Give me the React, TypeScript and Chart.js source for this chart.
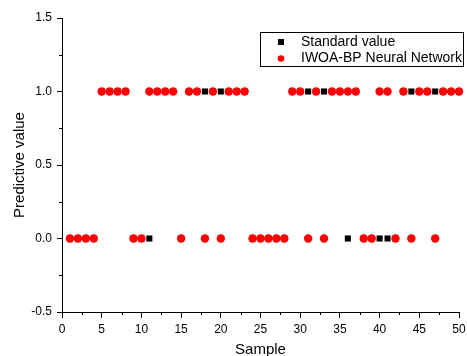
import { useEffect, useRef } from "react";
import { Chart, registerables } from "chart.js";

Chart.register(...registerables);

const samples = [
  1, 2, 3, 4, 5, 6, 7, 8, 9, 10, 11, 12, 13, 14, 15, 16, 17, 18, 19, 20, 21, 22, 23, 24, 25,
  26, 27, 28, 29, 30, 31, 32, 33, 34, 35, 36, 37, 38, 39, 40, 41, 42, 43, 44, 45, 46, 47, 48, 49, 50,
];
const standardValues = [
  0, 0, 0, 0, 1, 1, 1, 1, 0, 0, 0, 1, 1, 1, 0, 1, 1, 1, 1, 1, 1, 1, 1, 0, 0,
  0, 0, 0, 1, 1, 1, 1, 1, 1, 1, 0, 1, 0, 0, 0, 0, 0, 1, 1, 1, 1, 1, 1, 1, 1,
];
const predictedValues = [
  0, 0, 0, 0, 1, 1, 1, 1, 0, 0, 1, 1, 1, 1, 0, 1, 1, 0, 1, 0, 1, 1, 1, 0, 0,
  0, 0, 0, 1, 1, 0, 1, 0, 1, 1, 1, 1, 0, 0, 1, 1, 0, 1, 0, 1, 1, 0, 1, 1, 1,
];
const seriesNames = ["Standard value", "IWOA-BP Neural Network"];
const seriesColors = ["#000000", "#ff0000"];
const xMajorTicks = [0, 5, 10, 15, 20, 25, 30, 35, 40, 45, 50];
const yMajorTicks = [-0.5, 0, 0.5, 1.0, 1.5];

const FONT = "'Liberation Sans', Arial, sans-serif";

const isMajor = (v: number, list: number[]) => list.some((t) => Math.abs(t - v) < 1e-9);

const minorTickPlugin = {
  id: "minorTicks",
  afterDraw(chart: any) {
    const ctx = chart.ctx;
    const xs = chart.scales.x;
    const ys = chart.scales.y;
    ctx.save();
    ctx.strokeStyle = "#000";
    ctx.lineWidth = 1;
    ctx.beginPath();
    xs.ticks.forEach((t: any) => {
      if (!isMajor(t.value, xMajorTicks)) {
        const px = Math.round(xs.getPixelForValue(t.value)) + 0.5;
        ctx.moveTo(px, xs.top);
        ctx.lineTo(px, xs.top + 3);
      }
    });
    ys.ticks.forEach((t: any) => {
      if (!isMajor(t.value, yMajorTicks)) {
        const py = Math.round(ys.getPixelForValue(t.value)) + 0.5;
        ctx.moveTo(ys.right, py);
        ctx.lineTo(ys.right - 3, py);
      }
    });
    ctx.stroke();
    ctx.restore();
  },
};

const boxLegendPlugin = {
  id: "boxLegend",
  afterDraw(chart: any) {
    const ctx = chart.ctx;
    const area = chart.chartArea;
    const w = 203;
    const h = 34;
    const x0 = area.right + 4 - w;
    const y0 = area.top + 14;
    ctx.save();
    ctx.strokeStyle = "#000";
    ctx.lineWidth = 1;
    ctx.strokeRect(Math.round(x0) + 0.5, Math.round(y0) + 0.5, w, h);
    ctx.font = `14px ${FONT}`;
    ctx.textBaseline = "middle";
    ctx.textAlign = "left";
    const rows = [y0 + 10, y0 + 26.5];
    chart.data.datasets.forEach((ds: any, i: number) => {
      const cy = rows[i];
      const cx = x0 + 21;
      ctx.fillStyle = ds.backgroundColor;
      if (ds.pointStyle === "rect") {
        ctx.fillRect(cx - 3, cy - 3, 6, 6);
      } else {
        ctx.beginPath();
        ctx.arc(cx, cy, 3.3, 0, Math.PI * 2);
        ctx.fill();
      }
      ctx.fillStyle = "#000";
      ctx.fillText(ds.label, x0 + 41, cy);
    });
    ctx.restore();
  },
};

export default function App() {
  const canvasRef = useRef<HTMLCanvasElement | null>(null);

  useEffect(() => {
    document.body.style.margin = "0";
    const canvas = canvasRef.current;
    if (!canvas) return;
    const chart = new Chart(canvas, {
      type: "scatter",
      data: {
        datasets: [
          {
            label: seriesNames[0],
            data: samples.map((s, i) => ({ x: s, y: standardValues[i] })),
            pointStyle: "rect",
            pointRadius: 4.3,
            pointHoverRadius: 4.3,
            backgroundColor: seriesColors[0],
            borderColor: seriesColors[0],
            borderWidth: 0,
            order: 2,
            clip: false,
          },
          {
            label: seriesNames[1],
            data: samples.map((s, i) => ({ x: s, y: predictedValues[i] })),
            pointStyle: "circle",
            pointRadius: 4.2,
            pointHoverRadius: 4.2,
            backgroundColor: seriesColors[1],
            borderColor: seriesColors[1],
            borderWidth: 0,
            order: 1,
            clip: false,
          },
        ],
      },
      options: {
        animation: false,
        responsive: false,
        maintainAspectRatio: false,
        layout: { padding: { top: 18, right: 8, left: 0, bottom: 0 } },
        plugins: {
          legend: { display: false },
          tooltip: { enabled: false },
        },
        scales: {
          x: {
            type: "linear",
            min: 0,
            max: 50,
            afterFit(scale: any) {
              scale.height = 44;
              scale.paddingLeft = 0;
              scale.paddingRight = 0;
            },
            ticks: {
              stepSize: 2.5,
              autoSkip: false,
              maxRotation: 0,
              padding: 4,
              color: "#000",
              font: { family: FONT, size: 12 },
              callback: (v: any) => (isMajor(Number(v), xMajorTicks) ? String(v) : ""),
            },
            grid: {
              drawOnChartArea: false,
              drawTicks: true,
              tickLength: 6,
              tickColor: (c: any) =>
                c.tick && isMajor(c.tick.value, xMajorTicks) ? "#000" : "rgba(0,0,0,0)",
            },
            border: { display: true, color: "#000", width: 1 },
            title: {
              display: true,
              text: "Sample",
              color: "#000",
              font: { family: FONT, size: 15 },
              padding: { top: 0, bottom: -3 },
            },
          },
          y: {
            type: "linear",
            min: -0.5,
            max: 1.5,
            afterFit(scale: any) {
              scale.width = 62;
              scale.paddingTop = 0;
              scale.paddingBottom = 0;
            },
            ticks: {
              stepSize: 0.25,
              autoSkip: false,
              padding: 5,
              color: "#000",
              font: { family: FONT, size: 12 },
              callback: (v: any) =>
                isMajor(Number(v), yMajorTicks) ? Number(v).toFixed(1) : "",
            },
            grid: {
              drawOnChartArea: false,
              drawTicks: true,
              tickLength: 5,
              tickColor: (c: any) =>
                c.tick && isMajor(c.tick.value, yMajorTicks) ? "#000" : "rgba(0,0,0,0)",
            },
            border: { display: true, color: "#000", width: 1 },
            title: {
              display: true,
              text: "Predictive value",
              color: "#000",
              font: { family: FONT, size: 15 },
              padding: { top: 11, bottom: 0 },
            },
          },
        },
      },
      plugins: [minorTickPlugin, boxLegendPlugin],
    });
    return () => chart.destroy();
  }, []);

  return (
    <div style={{ width: 467, height: 356 }}>
      <canvas ref={canvasRef} width={467} height={356} style={{ display: "block" }} />
    </div>
  );
}
